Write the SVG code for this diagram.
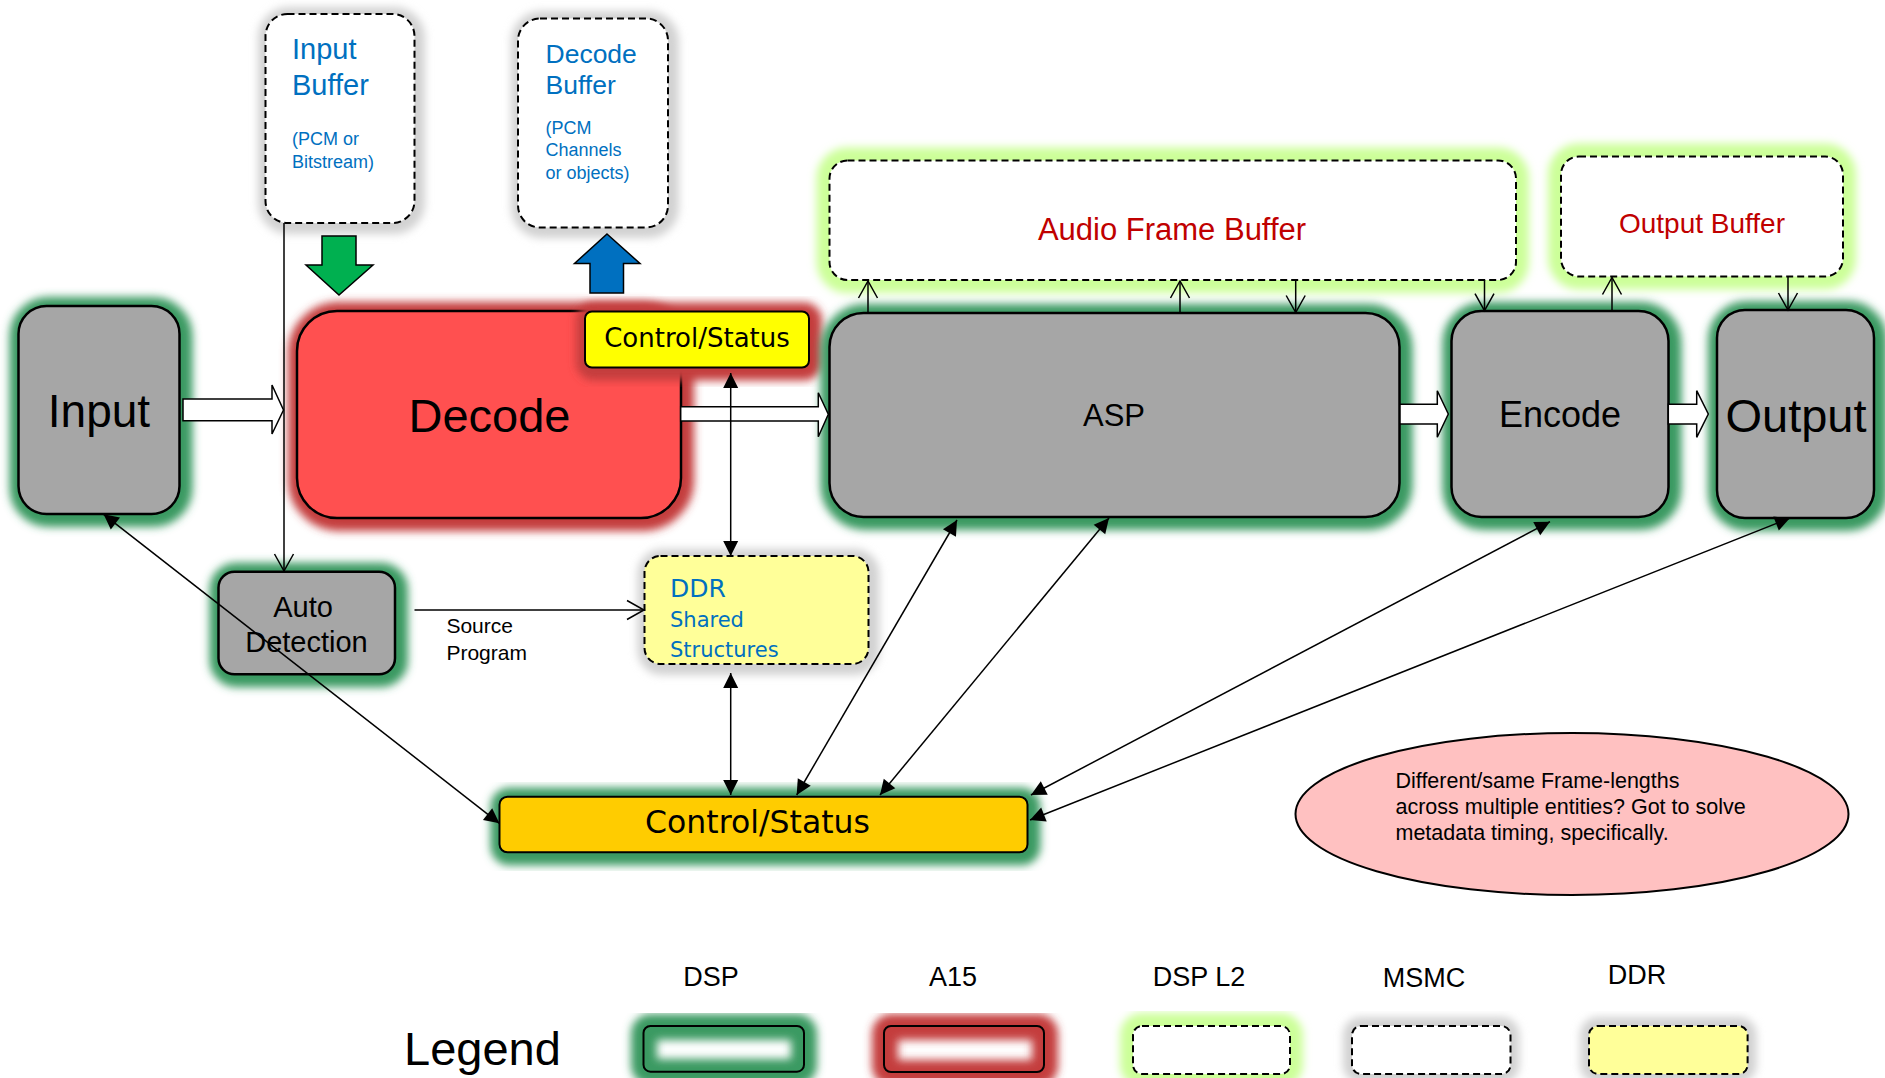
<svg xmlns="http://www.w3.org/2000/svg" width="1885" height="1078" viewBox="0 0 1885 1078">
<style>
.gl{filter:url(#blur);fill:none}
.gg{stroke:#3A9A62;stroke-width:22}
.gr{stroke:#C43C3C;stroke-width:22}
.gl2{stroke:#CCFF99;stroke-width:26}
.gk{stroke:#D2D2D2;stroke-width:18}
.node{fill:#A6A6A6;stroke:#000;stroke-width:2.5}
.dash{fill:#fff;stroke:#000;stroke-width:2;stroke-dasharray:7 4}
.ln{stroke:#000;stroke-width:1.5;fill:none}
.ha{fill:#fff;stroke:#000;stroke-width:1.5}
.a{font-family:"Liberation Sans",Arial,sans-serif}
.d{font-family:"DejaVu Sans",Verdana,sans-serif}
.blue{fill:#0070C0}
.red{fill:#C00000}
.c{text-anchor:middle}
</style>
<defs>
<filter id="blur" x="-30%" y="-30%" width="160%" height="160%"><feGaussianBlur stdDeviation="4"/></filter>
<marker id="ov" viewBox="-19 -11 21 22" refX="0" refY="0" markerWidth="21" markerHeight="22" markerUnits="userSpaceOnUse" orient="auto"><path d="M-17,-9.5 L0,0 L-17,9.5" fill="none" stroke="#000" stroke-width="1.5"/></marker>
<marker id="fa" viewBox="-16 -9 17 18" refX="0" refY="0" markerWidth="17" markerHeight="18" markerUnits="userSpaceOnUse" orient="auto-start-reverse"><path d="M-15,-7.5 L0,0 L-15,7.5 Z" fill="#000"/></marker>
</defs>

<g id="input-buffer">
<rect class="gl gk" x="267" y="16" width="149" height="209" rx="22"/>
<rect class="dash" x="265.5" y="14" width="149" height="209" rx="22"/>
<text class="a blue" font-size="29"><tspan x="292" y="59">Input</tspan><tspan x="292" y="94.5">Buffer</tspan></text>
<text class="a blue" font-size="18"><tspan x="292" y="144.5">(PCM or</tspan><tspan x="292" y="168">Bitstream)</tspan></text>
</g>

<g id="decode-buffer">
<rect class="gl gk" x="520" y="20" width="150" height="209" rx="22"/>
<rect class="dash" x="518" y="18.5" width="150" height="209" rx="22"/>
<text class="a blue" font-size="26.5"><tspan x="545.5" y="62.5">Decode</tspan><tspan x="545.5" y="93.5">Buffer</tspan></text>
<text class="a blue" font-size="18"><tspan x="545.5" y="134">(PCM</tspan><tspan x="545.5" y="156">Channels</tspan><tspan x="545.5" y="178.5">or objects)</tspan></text>
</g>

<g id="audio-frame-buffer">
<rect class="gl gl2" x="829.5" y="160.5" width="686.5" height="119.5" rx="18"/>
<rect class="dash" x="829.5" y="160.5" width="686.5" height="119.5" rx="18"/>
<text class="a red c" x="1172" y="240" font-size="31">Audio Frame Buffer</text>
</g>

<g id="output-buffer">
<rect class="gl gl2" x="1561" y="156.5" width="282" height="120" rx="18"/>
<rect class="dash" x="1561" y="156.5" width="282" height="120" rx="18"/>
<text class="a red c" x="1702" y="233" font-size="28">Output Buffer</text>
</g>

<g id="input-arrow-green">
<polygon points="322,236 356,236 356,265 373,265 339,295 306,265 322,265" fill="#00B050" stroke="#000" stroke-width="1.5"/>
</g>
<g id="decode-arrow-blue">
<polygon points="607,234 640,263.5 623.5,263.5 623.5,293 590,293 590,263.5 574.5,263.5" fill="#0070C0" stroke="#000" stroke-width="1.5"/>
</g>

<g id="input">
<rect class="gl gg" x="20.5" y="308" width="161" height="208" rx="28"/>
<rect class="node" x="18.5" y="306" width="161" height="208" rx="28"/>
<text class="a c" x="99" y="427" font-size="46">Input</text>
</g>

<g id="decode">
<rect class="gl gr" x="299" y="313" width="384" height="207" rx="40"/>
<rect x="297" y="311" width="384" height="207" rx="40" fill="#FF5050" stroke="#000" stroke-width="2.5"/>
<text class="a c" x="489.5" y="432" font-size="47">Decode</text>
</g>

<g id="decode-control-status">
<rect class="gl gr" x="587" y="313.5" width="224" height="56" rx="7"/>
<rect x="585" y="311.5" width="224" height="56" rx="7" fill="#FFFF00" stroke="#000" stroke-width="2"/>
<text class="d c" x="697" y="347.3" font-size="26">Control/Status</text>
</g>

<g id="asp">
<rect class="gl gg" x="831.5" y="315" width="570" height="204" rx="34"/>
<rect class="node" x="829.5" y="313" width="570" height="204" rx="34"/>
<text class="a c" x="1114" y="426" font-size="31">ASP</text>
</g>

<g id="encode">
<rect class="gl gg" x="1453.5" y="313" width="217" height="206" rx="30"/>
<rect class="node" x="1451.5" y="311" width="217" height="206" rx="30"/>
<text class="a c" x="1560" y="427" font-size="36">Encode</text>
</g>

<g id="output">
<rect class="gl gg" x="1719" y="312" width="157" height="208" rx="28"/>
<rect class="node" x="1717" y="310" width="157" height="208" rx="28"/>
<text class="a c" x="1796" y="431.7" font-size="47">Output</text>
</g>

<g id="auto-detection">
<rect class="gl gg" x="220.5" y="573.7" width="176.5" height="102.5" rx="16"/>
<rect class="node" x="218.5" y="571.7" width="176.5" height="102.5" rx="16"/>
<text class="a c" font-size="29"><tspan x="303" y="616.7">Auto</tspan><tspan x="306.5" y="651.7">Detection</tspan></text>
</g>

<g id="ddr-shared">
<rect class="gl gk" x="646.5" y="558" width="224" height="108" rx="16"/>
<rect class="dash" x="644.5" y="556" width="224" height="108" rx="16" fill="#FFFF99" style="fill:#FFFF99"/>
<text class="d blue" x="670" y="597.3" font-size="25">DDR</text>
<text class="d blue" font-size="21"><tspan x="670" y="627.3">Shared</tspan><tspan x="670" y="656.7">Structures</tspan></text>
</g>

<g id="control-status">
<rect class="gl gg" x="501.5" y="798.7" width="528" height="55.6" rx="8"/>
<rect x="499.5" y="796.7" width="528" height="55.6" rx="8" fill="#FFCC00" stroke="#000" stroke-width="2"/>
<text class="d c" x="757.5" y="833.3" font-size="31.5">Control/Status</text>
</g>

<g id="note">
<ellipse cx="1572" cy="814" rx="276.5" ry="81" fill="#FFC1C1" stroke="#000" stroke-width="2"/>
<text class="a" font-size="21.5"><tspan x="1395.5" y="788">Different/same Frame-lengths</tspan><tspan x="1395.5" y="814">across multiple entities? Got to solve</tspan><tspan x="1395.5" y="839.5">metadata timing, specifically.</tspan></text>
</g>

<g id="connectors">
<polygon class="ha" points="183,399 272,399 272,385 283.5,410 272,434 272,420.7 183,420.7"/>
<polygon class="ha" points="680.7,406.7 818.3,406.7 818.3,392.7 828.3,414.3 818.3,436.7 818.3,421 680.7,421"/>
<polygon class="ha" points="1400,404.3 1437.3,404.3 1437.3,390.7 1448.3,414 1437.3,437.3 1437.3,424 1400,424"/>
<polygon class="ha" points="1668.3,404.3 1696.7,404.3 1696.7,390.7 1708.3,414 1696.7,437.3 1696.7,424 1668.3,424"/>
<line class="ln" x1="284" y1="223" x2="284" y2="571" marker-end="url(#ov)"/>
<line class="ln" x1="414.5" y1="610" x2="644" y2="610" marker-end="url(#ov)"/>
<text class="a" font-size="21"><tspan x="446.4" y="633">Source</tspan><tspan x="446.4" y="660">Program</tspan></text>
<line class="ln" x1="730.7" y1="373" x2="730.7" y2="556" marker-start="url(#fa)" marker-end="url(#fa)"/>
<line class="ln" x1="730.7" y1="673" x2="730.7" y2="795" marker-start="url(#fa)" marker-end="url(#fa)"/>
<line class="ln" x1="103.6" y1="514.3" x2="499.4" y2="823.3" marker-start="url(#fa)" marker-end="url(#fa)"/>
<line class="ln" x1="957" y1="520" x2="796.7" y2="795" marker-start="url(#fa)" marker-end="url(#fa)"/>
<line class="ln" x1="1109" y1="518" x2="880" y2="795" marker-start="url(#fa)" marker-end="url(#fa)"/>
<line class="ln" x1="1550" y1="521.7" x2="1031" y2="795" marker-start="url(#fa)" marker-end="url(#fa)"/>
<line class="ln" x1="1790" y1="518" x2="1030" y2="820" marker-start="url(#fa)" marker-end="url(#fa)"/>
<line class="ln" x1="868" y1="313" x2="868" y2="281" marker-end="url(#ov)"/>
<line class="ln" x1="1180" y1="312" x2="1180" y2="281" marker-end="url(#ov)"/>
<line class="ln" x1="1295.7" y1="280" x2="1295.7" y2="312.5" marker-end="url(#ov)"/>
<line class="ln" x1="1484.5" y1="280" x2="1484.5" y2="310.7" marker-end="url(#ov)"/>
<line class="ln" x1="1612" y1="311" x2="1612" y2="277.5" marker-end="url(#ov)"/>
<line class="ln" x1="1788" y1="276.5" x2="1788" y2="310" marker-end="url(#ov)"/>
</g>

<g id="legend">
<text class="a" x="404" y="1065" font-size="47">Legend</text>
<text class="a c" font-size="27"><tspan x="711" y="986">DSP</tspan><tspan x="953" y="986">A15</tspan><tspan x="1199" y="986">DSP L2</tspan><tspan x="1424" y="986.5">MSMC</tspan><tspan x="1637" y="984">DDR</tspan></text>
<rect class="gl" x="644" y="1027" width="160" height="45" rx="7" style="stroke:#3A9A62;stroke-width:26"/>
<rect x="643.5" y="1026" width="160.5" height="45.7" rx="7" fill="none" stroke="#000" stroke-width="2"/>
<rect class="gl" x="885" y="1027" width="160" height="46" rx="7" style="stroke:#C43C3C;stroke-width:26"/>
<rect x="884" y="1026" width="160" height="46" rx="7" fill="none" stroke="#000" stroke-width="2"/>
<rect class="gl gl2" x="1133" y="1026" width="157" height="48" rx="9"/>
<rect class="dash" x="1133" y="1026" width="157" height="48" rx="9"/>
<rect class="gl gk" x="1352" y="1026" width="158.5" height="48" rx="9"/>
<rect class="dash" x="1352" y="1026" width="158.5" height="48" rx="9"/>
<rect class="gl gk" x="1589" y="1026" width="158.6" height="48" rx="9"/>
<rect class="dash" x="1589" y="1026" width="158.6" height="48" rx="9" style="fill:#FFFF99"/>
</g>
</svg>
